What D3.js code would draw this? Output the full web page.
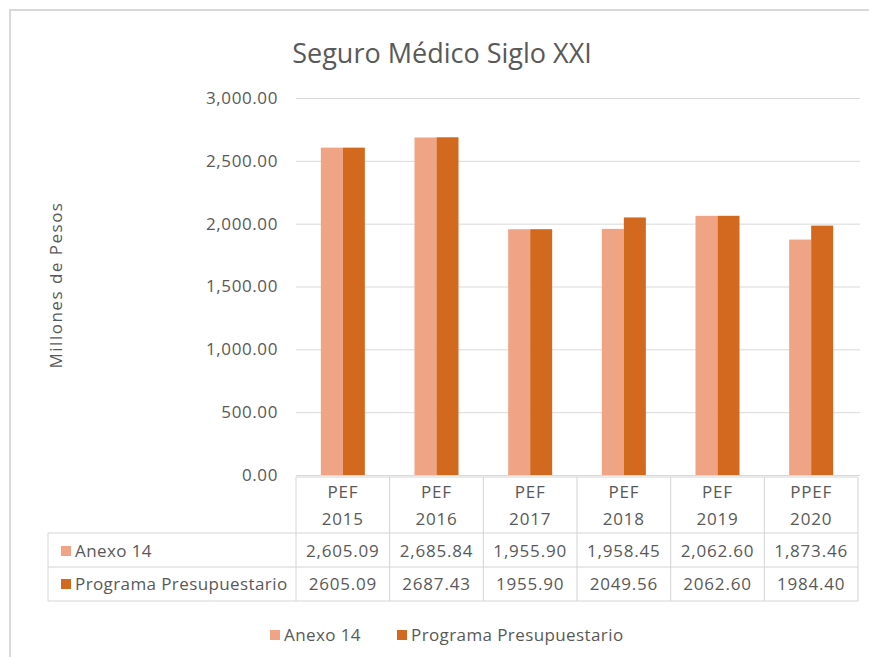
<!DOCTYPE html>
<html>
<head>
<meta charset="utf-8">
<script src="https://cdn.jsdelivr.net/npm/d3@7"></script>
<style>
  body { margin: 0; background: #fff; }
  svg text { font-family: "Open Sans", "Noto Sans", sans-serif; fill: #595959; }
</style>
</head>
<body>
<div id="main"></div>
<script>
// data
const categories = ["PEF 2015", "PEF 2016", "PEF 2017", "PEF 2018", "PEF 2019", "PPEF 2020"];
const seriesNames = ["Anexo 14", "Programa Presupuestario"];
const anexo14 = [2605.09, 2685.84, 1955.90, 1958.45, 2062.60, 1873.46];
const programa = [2605.09, 2687.43, 1955.90, 2049.56, 2062.60, 1984.40];
// the table prints the two rows in different number styles
const anexo14Labels = ["2,605.09", "2,685.84", "1,955.90", "1,958.45", "2,062.60", "1,873.46"];
const programaLabels = ["2605.09", "2687.43", "1955.90", "2049.56", "2062.60", "1984.40"];
const yTicks = [0, 500, 1000, 1500, 2000, 2500, 3000];
const colors = ["#F0A486", "#D2691E"];

const config = {width: 869, height: 657, left: 296, right: 858, top: 98, zero: 475};

const svg = d3.select("#main")
    .append("svg")
    .attr("width", config.width)
    .attr("height", config.height);

// chart frame
svg.append("rect")
    .attr("x", 10).attr("y", 10)
    .attr("width", 900).attr("height", 700)
    .attr("fill", "none")
    .attr("stroke", "#d9d9d9")
    .attr("stroke-width", 2);

svg.append("text")
    .attr("x", 442).attr("y", 63)
    .attr("text-anchor", "middle")
    .style("font-size", "27px")
    .text("Seguro Médico Siglo XXI");

const xScale = d3.scaleBand().domain(categories).range([config.left, config.right]).padding(0);
const bw = xScale.bandwidth();
const xSub = d3.scaleBand().domain(seriesNames).range([bw * 0.265, bw * 0.735]).padding(0);
const yScale = d3.scaleLinear().domain([0, 3000]).range([config.zero, config.top]);

// grid + y axis
const yAxis = d3.axisLeft(yScale)
    .tickValues(yTicks)
    .tickFormat(d3.format(",.2f"))
    .tickSize(-(config.right + 2 - config.left))
    .tickPadding(18);

svg.append("g")
    .attr("transform", `translate(${config.left},0)`)
    .call(yAxis)
    .call(g => g.select(".domain").remove())
    .call(g => g.selectAll(".tick line").attr("stroke", "#d9d9d9"))
    .call(g => g.selectAll(".tick text")
        .style("font-size", "17px")
        .style("letter-spacing", "0.6px")
        .attr("fill", "#595959"));

svg.append("text")
    .attr("transform", "translate(62,285) rotate(-90)")
    .attr("text-anchor", "middle")
    .style("font-size", "17px")
    .style("letter-spacing", "1.5px")
    .text("Millones de Pesos");

// bars
const rows = categories.map((c, i) => ({cat: c, values: [anexo14[i], programa[i]]}));

svg.append("g")
    .selectAll("g")
    .data(rows)
    .join("g")
    .attr("transform", d => `translate(${xScale(d.cat)},0)`)
    .selectAll("rect")
    .data(d => d.values.map((v, k) => ({name: seriesNames[k], v: v, k: k})))
    .join("rect")
    .attr("x", d => xSub(d.name))
    .attr("y", d => yScale(d.v))
    .attr("width", xSub.bandwidth())
    .attr("height", d => yScale(0) - yScale(d.v))
    .attr("fill", d => colors[d.k]);

// data table
const tableTop = config.zero + 2;
const headerBottom = 533, row1Bottom = 567, row2Bottom = 601, tableLeft = 48;
const table = svg.append("g").attr("stroke", "#d4d4d4").attr("stroke-width", 1);

table.append("line").attr("x1", config.left).attr("x2", config.right).attr("y1", tableTop).attr("y2", tableTop);
[headerBottom, row1Bottom, row2Bottom].forEach(y => {
    table.append("line").attr("x1", tableLeft).attr("x2", config.right).attr("y1", y).attr("y2", y);
});
table.append("line").attr("x1", tableLeft).attr("x2", tableLeft).attr("y1", headerBottom).attr("y2", row2Bottom);
categories.concat([null]).forEach((c, i) => {
    const x = c ? xScale(c) : config.right;
    table.append("line").attr("x1", x).attr("x2", x).attr("y1", tableTop).attr("y2", row2Bottom);
});

const cells = svg.append("g")
    .attr("text-anchor", "middle")
    .style("font-size", "17px")
    .style("letter-spacing", "0.8px");
categories.forEach((c, i) => {
    const cx = xScale(c) + bw / 2;
    const parts = c.split(" ");
    cells.append("text").attr("x", cx).attr("y", 498).text(parts[0]);
    cells.append("text").attr("x", cx).attr("y", 525).text(parts[1]);
    cells.append("text").attr("x", cx).attr("y", 557).text(anexo14Labels[i]);
    cells.append("text").attr("x", cx).attr("y", 590).text(programaLabels[i]);
});

[[557, 0], [590, 1]].forEach(([y, k]) => {
    svg.append("rect").attr("x", 61).attr("y", y - 11).attr("width", 10).attr("height", 10).attr("fill", colors[k]);
    svg.append("text").attr("x", 75).attr("y", y)
        .style("font-size", "17px").style("letter-spacing", "0.4px")
        .text(seriesNames[k]);
});

// legend
const legendX = [270, 397];
seriesNames.forEach((name, k) => {
    svg.append("rect").attr("x", legendX[k]).attr("y", 630).attr("width", 10).attr("height", 10).attr("fill", colors[k]);
    svg.append("text").attr("x", legendX[k] + 14).attr("y", 641)
        .style("font-size", "17px").style("letter-spacing", "0.4px")
        .text(name);
});
</script>
</body>
</html>
